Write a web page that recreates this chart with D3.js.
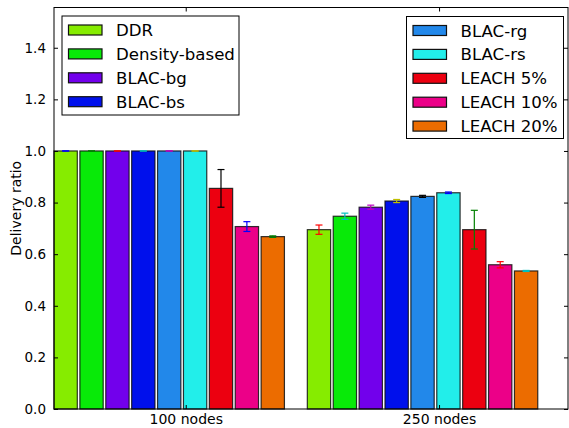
<!DOCTYPE html>
<html>
<head>
<meta charset="utf-8">
<script src="https://cdn.jsdelivr.net/npm/d3@7"></script>
<style>
  body { margin: 0; background: #fff; }
  svg { display: block; font-family: "DejaVu Sans", sans-serif; }
</style>
</head>
<body>
<div id="chart"></div>
<script>
// groups along the x axis
const groups = ['100 nodes', '250 nodes'];
// one series per protocol
const series = ['DDR', 'Density-based', 'BLAC-bg', 'BLAC-bs', 'BLAC-rg', 'BLAC-rs', 'LEACH 5%', 'LEACH 10%', 'LEACH 20%'];
const colors = ['#86ec00', '#08ea08', '#7200ec', '#0010ec', '#2288ea', '#22eeea', '#ec0010', '#ec0088', '#ec6c00'];
// mean delivery ratio, [100 nodes, 250 nodes]
const means = [
  [1.0, 0.695],
  [1.0, 0.747],
  [1.0, 0.782],
  [1.0, 0.806],
  [1.0, 0.824],
  [1.0, 0.838],
  [0.855, 0.695],
  [0.707, 0.559],
  [0.668, 0.535],
];
// half-width of the error bars
const errors = [
  [0, 0.018],
  [0, 0.012],
  [0, 0.008],
  [0, 0.006],
  [0, 0.004],
  [0, 0.003],
  [0.073, 0.075],
  [0.019, 0.012],
  [0.003, 0.002],
];
const errColors = ['#0000ff', '#008000', '#ff0000', '#00bfbf', '#bf00bf', '#bfbf00', '#000000'];
const yTicks = [0, 0.2, 0.4, 0.6, 0.8, 1.0, 1.2, 1.4];

const width = 569, height = 428;
const plot = { left: 54, right: 568, top: 7.5, bottom: 409 };
const step = 0.1022, barW = 0.092;

const svg = d3.select('#chart').append('svg')
  .attr('width', width).attr('height', height);

const x = d3.scaleLinear().domain([0, 2.029]).range([plot.left, plot.right]);
const y = d3.scaleLinear().domain([0, 1.556]).range([plot.bottom, plot.top]);

// bars
const rows = [];
groups.forEach((g, gi) => {
  series.forEach((s, si) => {
    rows.push({ gi, si, v: means[si][gi], e: errors[si][gi], k: gi * series.length + si });
  });
});

svg.append('g').selectAll('rect')
  .data(rows)
  .join('rect')
  .attr('x', d => x(d.gi + d.si * step))
  .attr('y', d => y(d.v))
  .attr('width', x(barW) - x(0))
  .attr('height', d => y(0) - y(d.v))
  .attr('fill', d => colors[d.si])
  .attr('stroke', '#111')
  .attr('stroke-opacity', 0.85)
  .attr('stroke-width', 1.2);

// error bars
const eb = svg.append('g').selectAll('g')
  .data(rows)
  .join('g')
  .attr('stroke', d => errColors[d.k % 7])
  .attr('stroke-width', 1.2);

const cx = d => x(d.gi + d.si * step + barW / 2);
eb.append('line')
  .attr('x1', cx).attr('x2', cx)
  .attr('y1', d => y(d.v - d.e)).attr('y2', d => y(d.v + d.e));
[-1, 1].forEach(sgn => {
  eb.append('line')
    .attr('x1', d => cx(d) - 3.5).attr('x2', d => cx(d) + 3.5)
    .attr('y1', d => y(d.v + sgn * d.e)).attr('y2', d => y(d.v + sgn * d.e));
});

// frame
svg.append('rect')
  .attr('x', plot.left).attr('y', plot.top)
  .attr('width', plot.right - plot.left).attr('height', plot.bottom - plot.top)
  .attr('fill', 'none').attr('stroke', '#000').attr('stroke-width', 1);

// y axis (ticks inside)
const yAxis = svg.append('g')
  .attr('transform', `translate(${plot.left},0)`)
  .call(d3.axisLeft(y).tickValues(yTicks).tickFormat(d3.format('.1f')).tickSizeInner(-4).tickSizeOuter(0).tickPadding(8));
yAxis.select('.domain').remove();
yAxis.selectAll('text').attr('font-size', 13.5).attr('fill', '#000').attr('font-family', 'DejaVu Sans');

const yAxisR = svg.append('g')
  .attr('transform', `translate(${plot.right},0)`)
  .call(d3.axisRight(y).tickValues(yTicks).tickFormat('').tickSizeInner(-4).tickSizeOuter(0));
yAxisR.select('.domain').remove();

// x axis
const xTicks = groups.map((g, i) => i + 0.52);
const xAxis = svg.append('g')
  .attr('transform', `translate(0,${plot.bottom})`)
  .call(d3.axisBottom(x).tickValues(xTicks).tickFormat((d, i) => groups[i]).tickSizeInner(-4).tickSizeOuter(0).tickPadding(5));
xAxis.select('.domain').remove();
xAxis.selectAll('text').attr('font-size', 14).attr('fill', '#000').attr('font-family', 'DejaVu Sans');

const xAxisT = svg.append('g')
  .attr('transform', `translate(0,${plot.top})`)
  .call(d3.axisTop(x).tickValues(xTicks).tickFormat('').tickSizeInner(-4).tickSizeOuter(0));
xAxisT.select('.domain').remove();

// y label
svg.append('text')
  .attr('transform', `translate(21,${(plot.top + plot.bottom) / 2}) rotate(-90)`)
  .attr('text-anchor', 'middle')
  .attr('font-size', 14)
  .text('Delivery ratio');

// legends
function legend(items, bx, by, bw, bh) {
  const g = svg.append('g');
  g.append('rect')
    .attr('x', bx).attr('y', by).attr('width', bw).attr('height', bh)
    .attr('fill', '#fff').attr('stroke', '#000').attr('stroke-width', 1);
  items.forEach((si, i) => {
    const cy = by + 14 + i * 23.9;
    g.append('rect')
      .attr('x', bx + 6.5).attr('y', cy - 5).attr('width', 33.5).attr('height', 10)
      .attr('fill', colors[si]).attr('stroke', '#111').attr('stroke-width', 1.2);
    g.append('text')
      .attr('x', bx + 54).attr('y', cy + 6)
      .attr('font-size', 16.6)
      .text(series[si]);
  });
}
legend([0, 1, 2, 3], 62, 16, 177, 99);
legend([4, 5, 6, 7, 8], 406.5, 16.5, 157, 122);
</script>
</body>
</html>
